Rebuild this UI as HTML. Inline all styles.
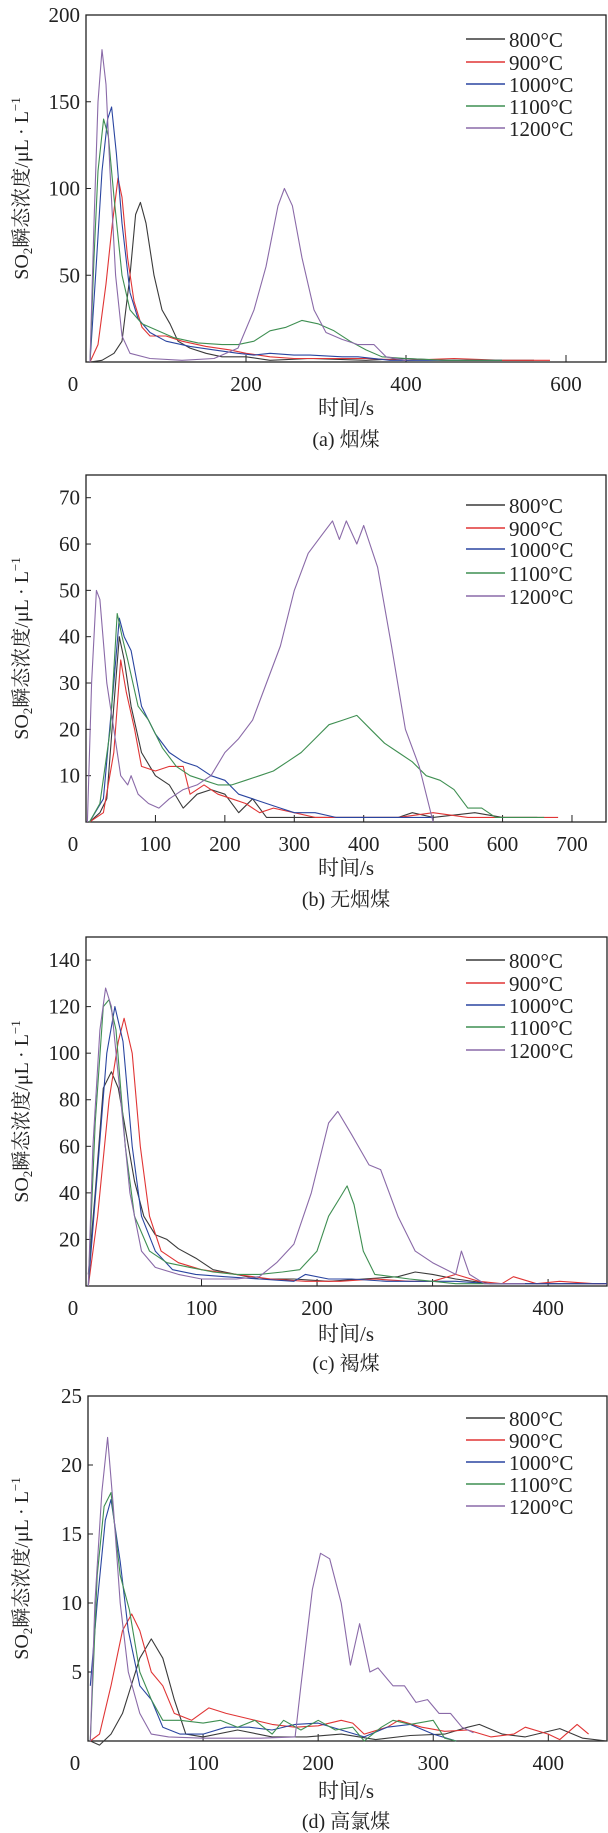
<!DOCTYPE html>
<html><head><meta charset="utf-8">
<style>
html,body{margin:0;padding:0;background:#fff;}
svg{display:block;}
text{font-family:"Liberation Serif","Noto Serif CJK SC","Noto Sans CJK SC",serif;fill:#222;}
</style></head>
<body>
<svg id="chart" width="608" height="1833" viewBox="0 0 608 1833" xmlns="http://www.w3.org/2000/svg"></svg>
<script>
// Series labels and colors
const seriesNames = ["800°C","900°C","1000°C","1100°C","1200°C"];
const colors = ["#3a3a3a","#e03535","#2a45a0","#3f8f52","#8a6aa8"];

// Panel (a) 烟煤 data: [time s, SO2 μL/L]
const a800 = [[5,0],[20,1],[35,5],[45,12],[55,50],[62,85],[68,92],[75,80],[85,50],[95,30],[105,22],[115,12],[130,8],[150,5],[170,3],[200,3],[230,1],[280,2],[350,1],[400,2],[450,1],[500,1],[560,1]];
const a900 = [[5,0],[15,10],[25,45],[33,80],[40,106],[45,95],[52,60],[60,35],[70,20],[80,15],[100,15],[120,12],[150,9],[180,7],[200,5],[230,3],[260,2],[300,2],[350,2],[400,1],[460,2],[520,1],[580,1]];
const a1000 = [[5,0],[12,50],[20,110],[27,140],[32,147],[38,120],[45,80],[55,40],[65,25],[80,17],[100,12],[130,9],[160,7],[190,5],[210,4],[230,5],[260,4],[280,4],[320,3],[340,3],[380,1],[450,1],[520,1]];
const a1100 = [[5,0],[10,60],[15,110],[22,140],[28,130],[35,95],[45,50],[55,30],[70,22],[90,18],[110,14],[140,11],[170,10],[190,10],[210,12],[230,18],[250,20],[270,24],[290,22],[310,18],[330,12],[350,7],[370,3],[400,2],[450,1],[520,1]];
const a1200 = [[5,0],[10,80],[15,150],[20,180],[25,160],[30,110],[37,50],[45,15],[55,5],[80,2],[120,1],[160,2],[190,8],[210,30],[225,55],[240,90],[248,100],[258,90],[270,60],[285,30],[300,17],[320,13],[340,10],[360,10],[375,3],[400,1]];
const aYTicks = [50,100,150,200];
const aXTicks = [200,400,600];

// Panel (b) 无烟煤
const b800 = [[5,0],[20,2],[30,5],[40,25],[48,40],[55,35],[65,25],[80,15],[100,10],[120,8],[140,3],[160,6],[180,7],[200,6],[220,2],[240,5],[260,1],[300,1],[350,1],[400,1],[450,1],[470,2],[500,1],[560,2],[600,1],[650,1]];
const b900 = [[5,0],[25,2],[40,15],[50,35],[58,28],[70,20],[80,12],[100,11],[120,12],[140,12],[150,6],[170,8],[190,6],[210,5],[230,4],[250,2],[270,3],[300,2],[330,1],[360,1],[400,1],[450,1],[500,2],[550,1],[600,1],[680,1]];
const b1000 = [[5,0],[25,5],[40,30],[48,44],[55,40],[65,37],[80,25],[100,19],[120,15],[140,13],[160,12],[180,10],[200,9],[220,6],[240,5],[260,4],[280,3],[300,2],[330,2],[360,1],[400,1],[500,1]];
const b1100 = [[5,0],[20,4],[35,20],[45,45],[52,40],[60,35],[75,25],[90,22],[110,16],[130,12],[150,10],[170,9],[190,8],[210,8],[230,9],[250,10],[270,11],[290,13],[310,15],[330,18],[350,21],[370,22],[390,23],[410,20],[430,17],[450,15],[470,13],[490,10],[510,9],[530,7],[550,3],[570,3],[590,1],[620,1],[660,1]];
const b1200 = [[2,0],[8,30],[15,50],[20,48],[30,30],[40,20],[50,10],[60,8],[65,10],[75,6],[90,4],[105,3],[120,5],[140,7],[160,8],[180,10],[200,15],[220,18],[240,22],[260,30],[280,38],[300,50],[320,58],[340,62],[355,65],[365,61],[375,65],[390,60],[400,64],[420,55],[440,38],[460,20],[480,12],[500,0]];
const bYTicks = [10,20,30,40,50,60,70];
const bXTicks = [100,200,300,400,500,600,700];

// Panel (c) 褐煤
const c800 = [[2,5],[8,40],[15,85],[22,92],[28,85],[35,65],[42,45],[50,30],[60,22],[70,20],[80,16],[95,12],[110,7],[130,5],[150,3],[180,3],[210,2],[240,3],[270,4],[285,6],[300,5],[320,3],[350,1],[380,1],[420,1],[451,1]];
const c900 = [[2,0],[10,30],[20,80],[28,105],[33,115],[40,100],[47,60],[55,30],[65,15],[80,10],[100,7],[130,5],[160,3],[190,2],[220,2],[250,3],[280,2],[300,2],[320,5],[340,2],[360,1],[370,4],[390,1],[410,2],[440,1],[451,1]];
const c1000 = [[2,0],[10,50],[18,100],[25,120],[32,105],[40,60],[48,30],[60,15],[75,7],[95,5],[120,4],[150,3],[180,2],[190,5],[210,3],[230,3],[260,2],[290,2],[320,2],[350,1],[400,1],[451,1]];
const c1100 = [[2,0],[8,70],[15,120],[20,123],[26,110],[34,60],[42,30],[55,15],[70,10],[90,8],[110,6],[130,5],[150,5],[170,6],[185,7],[200,15],[210,30],[220,38],[226,43],[232,35],[240,15],[250,5],[265,4],[280,3],[300,2],[320,1],[360,1]];
const c1200 = [[2,0],[6,60],[12,110],[17,128],[22,120],[30,80],[38,40],[48,15],[60,8],[80,5],[100,3],[130,3],[150,4],[165,10],[180,18],[195,40],[210,70],[218,75],[230,65],[245,52],[255,50],[270,30],[285,15],[300,10],[320,5],[325,15],[332,5],[345,1],[380,1]];
const cYTicks = [20,40,60,80,100,120,140];
const cXTicks = [100,200,300,400];

// Panel (d) 高氯煤
const d800 = [[2,0],[10,-0.3],[20,0.5],[30,2],[45,6],[55,7.4],[65,6],[75,3],[85,0.5],[100,0.3],[130,0.8],[160,0.3],[190,0.3],[220,0.5],[250,0.1],[280,0.4],[310,0.5],[330,1],[340,1.2],[360,0.5],[380,0.3],[410,0.9],[430,0.2],[451,0]];
const d900 = [[2,0],[10,0.5],[20,4],[30,8],[38,9.2],[45,8],[55,5],[65,4],[75,2],[90,1.5],[105,2.4],[120,2],[140,1.6],[160,1.2],[180,1],[200,1.1],[220,1.5],[230,1.3],[240,0.5],[260,1],[270,1.5],[290,1],[310,0.7],[330,0.8],[350,0.3],[370,0.5],[380,1],[400,0.5],[410,0.1],[425,1.2],[435,0.5]];
const d1000 = [[2,4],[8,10],[15,16],[20,17.5],[28,13],[35,8],[45,4],[55,3],[65,1],[80,0.5],[100,0.5],[120,1],[140,1],[160,0.8],[180,1.2],[200,1.3],[220,0.8],[240,0.3],[260,1],[280,1.2],[300,0.5],[320,0]];
const d1100 = [[2,0],[8,12],[14,17],[20,18],[28,12],[36,9.5],[45,5],[55,3],[65,1.5],[80,1.5],[100,1.3],[115,1.5],[130,1],[145,1.5],[160,0.5],[170,1.5],[185,0.8],[200,1.5],[215,0.8],[230,1],[240,0],[255,1],[265,1.5],[280,1.2],[300,1.5],[310,0.2],[320,0]];
const d1200 = [[2,0],[6,10],[12,18],[17,22],[22,17],[28,10],[35,5],[45,2],[55,0.5],[70,0.3],[100,0.2],[150,0.2],[180,0.3],[185,4],[195,11],[202,13.6],[210,13.2],[220,10],[228,5.5],[236,8.5],[245,5],[252,5.3],[265,4],[275,4],[285,2.8],[295,3],[305,2],[315,2],[325,1],[335,0.6]];
const dYTicks = [5,10,15,20,25];
const dXTicks = [100,200,300,400];

const captions = ["(a) 烟煤","(b) 无烟煤","(c) 褐煤","(d) 高氯煤"];

const NS = "http://www.w3.org/2000/svg";
const svg = document.getElementById("chart");
function mk(tag, attrs, parent){
  const e = document.createElementNS(NS, tag);
  for (const k in attrs) e.setAttribute(k, attrs[k]);
  (parent||svg).appendChild(e);
  return e;
}

const panels = [
  {id:"a", series:[a800,a900,a1000,a1100,a1200], yt:aYTicks, xt:aXTicks, l:86, r:606, top:15, bot:362, xmax:650, ymax:200, legY:[39,62,84,106,128], xl:407, cap:438},
  {id:"b", series:[b800,b900,b1000,b1100,b1200], yt:bYTicks, xt:bXTicks, l:86, r:606, top:475, bot:822, xmax:749, ymax:74.9, legY:[505,528,549,573,596], xl:867, cap:898},
  {id:"c", series:[c800,c900,c1000,c1100,c1200], yt:cYTicks, xt:cXTicks, l:86, r:607, top:937, bot:1286, xmax:451, ymax:149.9, legY:[960,983,1005,1027,1050], xl:1333, cap:1362},
  {id:"d", series:[d800,d900,d1000,d1100,d1200], yt:dYTicks, xt:dXTicks, l:88, r:607, top:1396, bot:1741, xmax:451, ymax:25, legY:[1418,1440,1462,1484,1506], xl:1790, cap:1820}
];

panels.forEach((p, pi) => {
  const g = mk("g", {});
  
  
  const xs = v => p.l + (v / p.xmax) * (p.r - p.l);
  const ys = v => p.bot - (v / p.ymax) * (p.bot - p.top);

  const frame = mk("rect", {x:p.l, y:p.top, width:p.r-p.l, height:p.bot-p.top, fill:"none", stroke:"#222", "stroke-width":1.3}, g);
  
  

  p.yt.forEach(v => {
    const y = ys(v);
    const t = mk("line", {x1:p.l, x2:p.l+5, y1:y, y2:y, stroke:"#222", "stroke-width":1}, g);
    
    
    const tx = mk("text", {x:p.l-6, y:y+7, "font-size":21, "text-anchor":"end"}, g);
    tx.textContent = v;
    
    
  });
  const z = mk("text", {x:p.l-13, y:p.bot+29, "font-size":21, "text-anchor":"middle"}, g);
  z.textContent = "0";
  
  
  p.xt.forEach(v => {
    const x = xs(v);
    const t = mk("line", {x1:x, x2:x, y1:p.bot, y2:p.bot-7, stroke:"#222", "stroke-width":1}, g);
    
    
    const tx = mk("text", {x:x, y:p.bot+29, "font-size":21, "text-anchor":"middle"}, g);
    tx.textContent = v;
    
    
  });

  p.series.forEach((s, si) => {
    const pts = s.map(d => xs(d[0]).toFixed(1) + "," + ys(d[1]).toFixed(1)).join(" ");
    const pl = mk("polyline", {points:pts, fill:"none", stroke:colors[si], "stroke-width":1.1, "stroke-linejoin":"round"}, g);
    
    
  });

  seriesNames.forEach((n, si) => {
    const y = p.legY[si];
    const ln = mk("line", {x1:466, x2:505, y1:y, y2:y, stroke:colors[si], "stroke-width":1.4}, g);
    
    
    const tx = mk("text", {x:509, y:y+8, "font-size":21}, g);
    tx.textContent = n;
    
    
  });

  const cy = (p.top + p.bot) / 2;
  const yt = mk("text", {x:0, y:0, "font-size":20, "text-anchor":"middle", transform:"translate(28," + cy + ") rotate(-90)"}, g);
  yt.innerHTML = 'SO<tspan font-size="13" dy="4">2</tspan><tspan dy="-4">瞬态浓度/μL · L</tspan><tspan font-size="13" dy="-8">−1</tspan>';
  
  
  const xt = mk("text", {x:346, y:p.xl+8, "font-size":21, "text-anchor":"middle"}, g);
  xt.textContent = "时间/s";
  
  
  const cp = mk("text", {x:346, y:p.cap+8, "font-size":20, "text-anchor":"middle"}, g);
  cp.textContent = captions[pi];
  
  
});
</script>
</body></html>
